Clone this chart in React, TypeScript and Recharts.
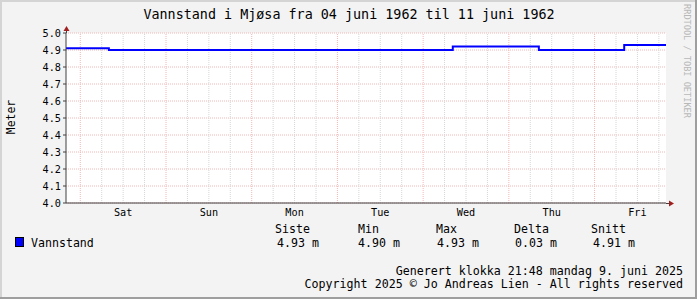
import { CartesianGrid, Line, LineChart, ReferenceLine, XAxis, YAxis } from "recharts";

// hours since start of the plotted week (start ~20:00 the evening before "Sat")
const hours = [0, 12, 108.3, 132.4, 156.3, 168];
const levels = [4.91, 4.9, 4.92, 4.9, 4.93, 4.93];

const dayTicks = [16, 40, 64, 88, 112, 136, 160];
const dayNames = ["Sat", "Sun", "Mon", "Tue", "Wed", "Thu", "Fri"];
const midnights = [4, 28, 52, 76, 100, 124, 148];
const sixHours = [10, 16, 22, 34, 40, 46, 58, 64, 70, 82, 88, 94, 106, 112, 118, 130, 136, 142, 154, 160, 166];
const levelTicks = [4.0, 4.1, 4.2, 4.3, 4.4, 4.5, 4.6, 4.7, 4.8, 4.9, 5.0];

const statHeads = ["Siste", "Min", "Max", "Delta", "Snitt"];
const statValues = ["4.93 m", "4.90 m", "4.93 m", "0.03 m", "4.91 m"];
const headX = [275, 358, 436, 514, 591];
const valueX = [277, 358, 437, 515, 593];

const data = hours.map((hour, i) => ({ hour, level: levels[i] }));

const mono = "'DejaVu Sans Mono', monospace";
const W = 697;
const H = 299;

export default function App() {
  return (
    <div style={{ position: "absolute", left: 0, top: 0, width: W, height: H, background: "#f3f3f3" }}>
      <LineChart width={W} height={H} data={data} margin={{ top: 33, right: 31, bottom: 76, left: 0 }}>
        <CartesianGrid
          vertical={false}
          fill="#ffffff"
          stroke="#f0b8b8"
          strokeDasharray="1 1"
          strokeOpacity={1}
        />
        {sixHours.map((h) => (
          <ReferenceLine key={`m${h}`} x={h} stroke="#d6d6d6" strokeDasharray="1 1" />
        ))}
        {midnights.map((h) => (
          <ReferenceLine key={`d${h}`} x={h} stroke="#f0b8b8" strokeDasharray="1 1" />
        ))}
        <XAxis
          dataKey="hour"
          type="number"
          domain={[0, 168]}
          ticks={dayTicks}
          interval={0}
          tickFormatter={(v) => dayNames[dayTicks.indexOf(v)]}
          height={20}
          tickLine={false}
          tickSize={0}
          tickMargin={6}
          axisLine={{ stroke: "#404040" }}
          tick={{ fontFamily: mono, fontSize: 10.2, fill: "#000" }}
        />
        <YAxis
          type="number"
          domain={[4, 5]}
          ticks={levelTicks}
          interval={0}
          width={66}
          tickFormatter={(v) => Number(v).toFixed(1)}
          tickSize={3}
          tickMargin={2}
          tickLine={{ stroke: "#404040" }}
          axisLine={{ stroke: "#404040" }}
          tick={{ fontFamily: mono, fontSize: 10.2, fill: "#000" }}
        />
        <Line
          type="stepAfter"
          dataKey="level"
          stroke="#0000ff"
          strokeWidth={2}
          dot={false}
          isAnimationActive={false}
        />
      </LineChart>
      <svg
        width={W}
        height={H}
        style={{ position: "absolute", left: 0, top: 0, pointerEvents: "none" }}
        fontFamily={mono}
      >
        {/* frame */}
        <rect x={0} y={0} width={W} height={2} fill="#d4d4d4" />
        <rect x={0} y={0} width={2} height={H} fill="#d4d4d4" />
        <rect x={W - 2} y={0} width={2} height={H} fill="#9e9e9e" />
        <rect x={0} y={H - 2} width={W} height={2} fill="#9e9e9e" />

        <text x={349} y={18.5} textAnchor="middle" fontSize={13.4} fill="#000">
          Vannstand i Mjøsa fra 04 juni 1962 til 11 juni 1962
        </text>
        <text x={15} y={117} textAnchor="middle" fontSize={11.4} fill="#000" transform="rotate(-90 15 117)">
          Meter
        </text>
        <text x={684} y={61} textAnchor="middle" fontSize={8.6} fill="#b8b8b8" transform="rotate(90 684 61)">
          RRDTOOL / TOBI OETIKER
        </text>

        {/* axis arrows */}
        <line x1={66.5} y1={30} x2={66.5} y2={33} stroke="#404040" />
        <polygon points="66.5,26 63.5,31 69.5,31" fill="#a02020" />
        <line x1={666} y1={203.5} x2={670} y2={203.5} stroke="#404040" />
        <polygon points="674,203.5 669,200.5 669,206.5" fill="#a02020" />

        {/* legend */}
        <rect x={15.5} y={237.5} width={8} height={9} fill="#0000ff" stroke="#000" />
        <text x={31} y={246.5} fontSize={11.6} fill="#000">
          Vannstand
        </text>
        {statHeads.map((s, i) => (
          <text key={s} x={headX[i]} y={233} fontSize={11.6} fill="#000">
            {s}
          </text>
        ))}
        {statValues.map((s, i) => (
          <text key={`${s}${i}`} x={valueX[i]} y={246.5} fontSize={11.6} fill="#000">
            {s}
          </text>
        ))}

        <text x={683} y={275} textAnchor="end" fontSize={11.65} fill="#000">
          Generert klokka 21:48 mandag 9. juni 2025
        </text>
        <text x={683} y={288} textAnchor="end" fontSize={11.65} fill="#000">
          Copyright 2025 © Jo Andreas Lien - All rights reserved
        </text>
      </svg>
    </div>
  );
}
